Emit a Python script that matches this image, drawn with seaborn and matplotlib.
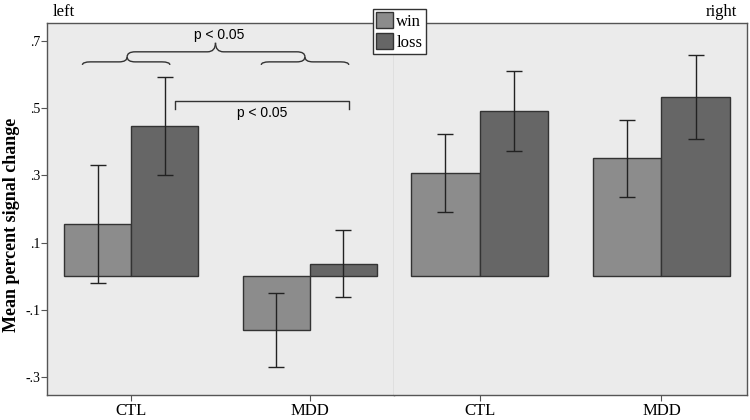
import matplotlib
matplotlib.use('Agg')
import matplotlib.pyplot as plt
import seaborn as sns
import pandas as pd
from matplotlib.path import Path
from matplotlib.patches import PathPatch, Patch

# data
groups = ['CTL', 'MDD']
conds = ['win', 'loss']
left_win = [0.155, -0.161]
left_loss = [0.448, 0.036]
left_win_err = [0.176, 0.109]
left_loss_err = [0.147, 0.100]
right_win = [0.307, 0.352]
right_loss = [0.493, 0.534]
right_win_err = [0.117, 0.115]
right_loss_err = [0.120, 0.126]
yticks = [-0.3, -0.1, 0.1, 0.3, 0.5, 0.7]

colors = ['#8c8c8c', '#666666']
edge = '#333333'
serif = 'Liberation Serif'
plt.rcParams['font.family'] = [serif, 'DejaVu Serif']


def make_df(win, loss, win_err, loss_err):
    rows = []
    for c, vals, errs in [('win', win, win_err), ('loss', loss, loss_err)]:
        for g, v, e in zip(groups, vals, errs):
            rows.append({'group': g, 'cond': c, 'value': v, 'err': e})
    return pd.DataFrame(rows)


def draw_panel(ax, df):
    sns.barplot(data=df, x='group', y='value', hue='cond', order=groups,
                hue_order=conds, palette=colors, saturation=1, width=0.75,
                edgecolor=edge, linewidth=1, errorbar=None, legend=False, ax=ax)
    for cont, c in zip(ax.containers, conds):
        sub = df[df['cond'] == c].set_index('group').loc[groups]
        for bar, e in zip(cont, sub['err']):
            x = bar.get_x() + bar.get_width() / 2
            y = bar.get_y() + bar.get_height()
            ax.errorbar(x, y, yerr=e, fmt='none', ecolor='#222222',
                        elinewidth=1, capsize=6, capthick=1, zorder=4)
    ax.set_facecolor('#ebebeb')
    ax.set_xlim(-0.47, 1.47)
    ax.set_ylim(-0.355, 0.755)
    ax.set_xlabel('')
    ax.set_ylabel('')
    ax.tick_params(axis='x', direction='out', length=4, color='#555555',
                   labelsize=12, pad=2)
    for s in ax.spines.values():
        s.set_color('#555555')
        s.set_linewidth(1)


def arm(ax, xe, ye, yh, xt, yt, dx):
    s = 1 if xt > xe else -1
    verts = [(xe, ye), (xe, yh), (xe + s * dx, yh), (xt - s * dx, yh),
             (xt, yh), (xt, yt)]
    codes = [Path.MOVETO, Path.CURVE3, Path.CURVE3, Path.LINETO,
             Path.CURVE3, Path.CURVE3]
    ax.add_patch(PathPatch(Path(verts, codes), fill=False, lw=1,
                           ec=edge, clip_on=False, zorder=5))


def brace(ax, x0, x1, xt, ye, yh, yt, dx=0.045):
    arm(ax, x0, ye, yh, xt, yt, dx)
    arm(ax, x1, ye, yh, xt, yt, dx)


fig = plt.figure(figsize=(7.5, 4.2), dpi=100)
axL = fig.add_axes([47 / 750, 25 / 420, 347 / 750, 372 / 420])
axR = fig.add_axes([394 / 750, 25 / 420, 353 / 750, 372 / 420])

draw_panel(axL, make_df(left_win, left_loss, left_win_err, left_loss_err))
draw_panel(axR, make_df(right_win, right_loss, right_win_err, right_loss_err))

axL.set_yticks(yticks)
axL.set_yticklabels([f'{v:.1f}'.replace('0.', '.') for v in yticks])
axL.tick_params(axis='y', direction='out', length=4, color='#555555',
                labelsize=10, pad=1)
axL.spines['right'].set_color('#b0b0b0')
axR.spines['left'].set_visible(False)
axR.tick_params(axis='y', left=False, labelleft=False)

# significance braces
brace(axL, -0.272, 0.217, -0.022, 0.630, 0.639, 0.654)
brace(axL, 0.728, 1.217, 0.972, 0.630, 0.639, 0.654)
brace(axL, -0.022, 0.972, 0.472, 0.654, 0.669, 0.696)
axL.text(0.494, 0.718, 'p < 0.05', ha='center', va='center', fontsize=10,
         family='Liberation Sans')
axL.plot([0.244, 0.244, 1.217, 1.217], [0.499, 0.522, 0.522, 0.499],
         color=edge, lw=1, zorder=5)
axL.text(0.733, 0.487, 'p < 0.05', ha='center', va='center', fontsize=10,
         family='Liberation Sans')

fig.text(12 / 750, 1 - 225 / 420, 'Mean percent signal change', rotation=90,
         ha='center', va='center', fontsize=13, fontweight='bold')
fig.text(53 / 750, 1 - 12 / 420, 'left', ha='left', va='center', fontsize=12)
fig.text(737 / 750, 1 - 12 / 420, 'right', ha='right', va='center', fontsize=12)

handles = [Patch(facecolor=c, edgecolor=edge, label=l) for c, l in zip(colors, conds)]
fig.legend(handles=handles, loc='upper left', bbox_to_anchor=(373 / 750, 1 - 9 / 420),
           frameon=True, fancybox=False, edgecolor=edge, framealpha=1,
           handlelength=1.0, handleheight=1.1, handletextpad=0.2,
           borderpad=0.2, borderaxespad=0, labelspacing=0.2, fontsize=12)

fig.savefig('out.png', dpi=100)
